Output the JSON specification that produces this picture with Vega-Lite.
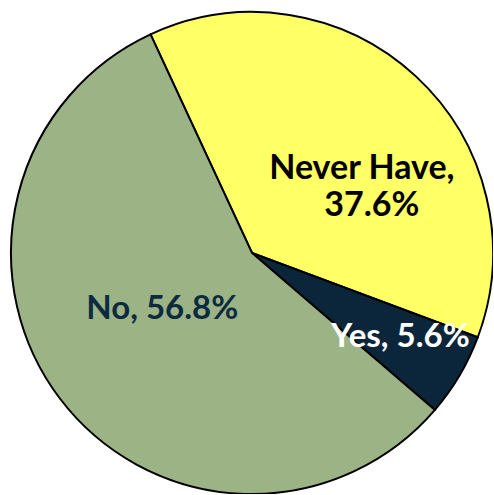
{
  "$schema": "https://vega.github.io/schema/vega-lite/v6.json",
  "autosize": "none",
  "width": 482,
  "height": 482,
  "padding": {"left": 11, "top": 12, "right": 0, "bottom": 0},
  "background": "white",
  "view": {"stroke": null},
  "data": {"values": [
    {"answer": "Never Have", "pct": 37.6, "rank": 1},
    {"answer": "Yes", "pct": 5.6, "rank": 2},
    {"answer": "No", "pct": 56.8, "rank": 3}
  ]},
  "transform": [
    {"stack": "pct", "groupby": [], "sort": [{"field": "rank", "order": "ascending"}], "as": ["t0", "t1"]},
    {"calculate": "(datum.t0 + datum.t1) / 2", "as": "tm"}
  ],
  "layer": [
    {
      "mark": {"type": "arc", "stroke": "black", "strokeWidth": 2},
      "encoding": {
        "theta": {"field": "t0", "type": "quantitative", "scale": {"domain": [0, 100], "range": [-0.4346, 5.8486]}},
        "theta2": {"field": "t1"},
        "color": {"field": "answer", "type": "nominal", "legend": null,
          "scale": {"domain": ["Never Have", "Yes", "No"], "range": ["#FFFF66", "#0B263A", "#9CB386"]}}
      }
    },
    {
      "transform": [{"filter": "datum.answer == 'Never Have'"}],
      "mark": {"type": "text", "radius": 150, "dx": 8, "dy": 36, "fontSize": 34, "fontWeight": "bold", "font": "Lato", "color": "black", "align": "center", "baseline": "alphabetic"},
      "encoding": {
        "theta": {"field": "tm", "type": "quantitative", "scale": {"domain": [0, 100], "range": [-0.4346, 5.8486]}},
        "text": {"value": "Never Have,"}
      }
    },
    {
      "transform": [{"filter": "datum.answer == 'Never Have'"}],
      "mark": {"type": "text", "radius": 150, "dx": 18, "dy": 73, "fontSize": 34, "fontWeight": "bold", "font": "Lato", "color": "black", "align": "center", "baseline": "alphabetic"},
      "encoding": {
        "theta": {"field": "tm", "type": "quantitative", "scale": {"domain": [0, 100], "range": [-0.4346, 5.8486]}},
        "text": {"value": "37.6%"}
      }
    },
    {
      "transform": [{"filter": "datum.answer == 'Yes'"}],
      "mark": {"type": "text", "radius": 170, "dx": 2, "dy": 8, "fontSize": 33, "fontWeight": "bold", "font": "Lato", "color": "white", "align": "center", "baseline": "alphabetic"},
      "encoding": {
        "theta": {"field": "tm", "type": "quantitative", "scale": {"domain": [0, 100], "range": [-0.4346, 5.8486]}},
        "text": {"value": "Yes, 5.6%"}
      }
    },
    {
      "transform": [{"filter": "datum.answer == 'No'"}],
      "mark": {"type": "text", "radius": 110, "dx": -2, "dy": 0, "fontSize": 33, "fontWeight": "bold", "font": "Lato", "color": "#0D2B3E", "align": "center", "baseline": "alphabetic"},
      "encoding": {
        "theta": {"field": "tm", "type": "quantitative", "scale": {"domain": [0, 100], "range": [-0.4346, 5.8486]}},
        "text": {"value": "No, 56.8%"}
      }
    }
  ]
}
